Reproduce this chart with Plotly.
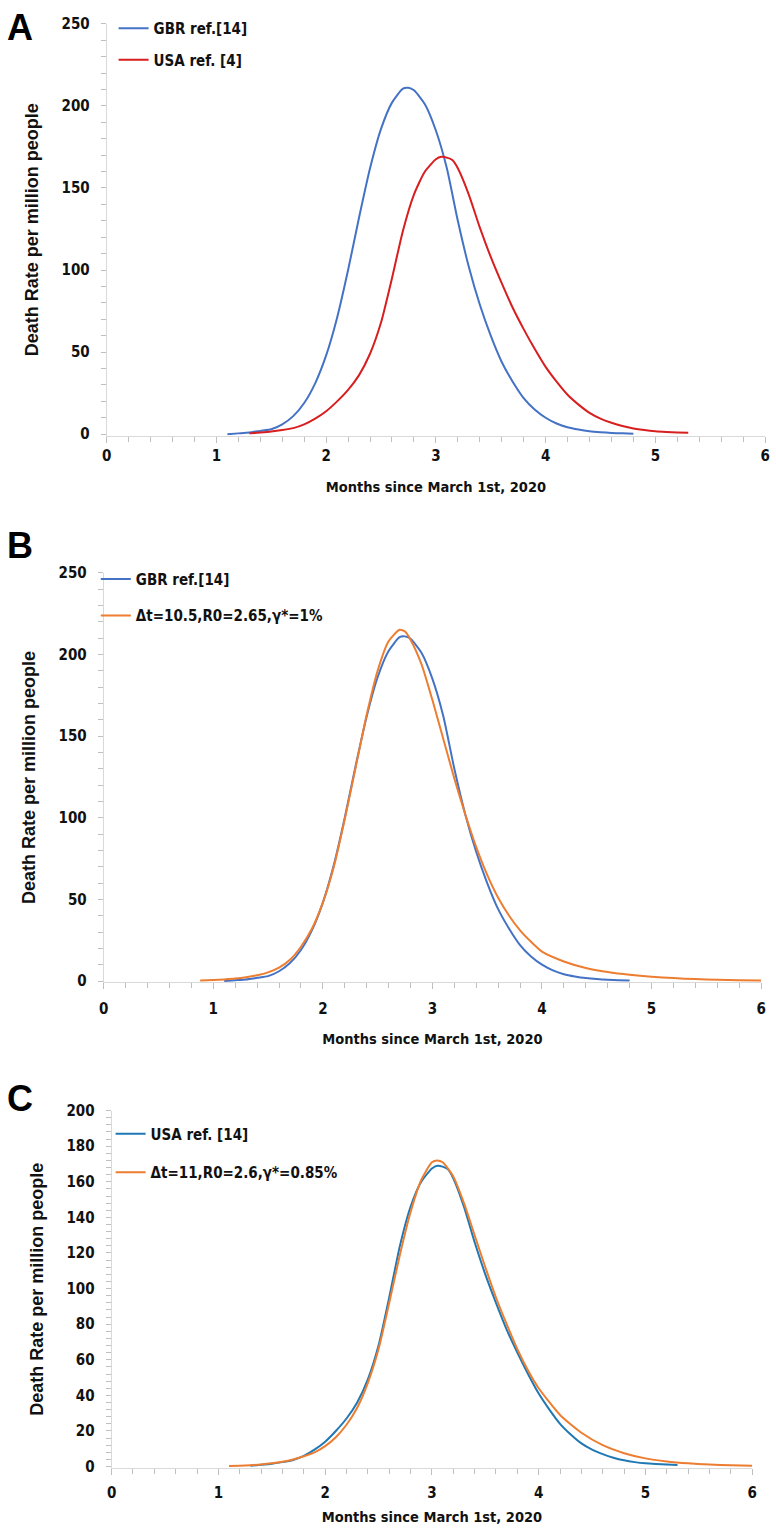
import plotly.graph_objects as go

W, H = 776, 1529

# ---------------- data ----------------
gbr_x = [1.10, 1.20, 1.30, 1.40, 1.50, 1.60, 1.70, 1.80, 1.90, 2.00, 2.10, 2.20, 2.30, 2.40,
         2.50, 2.60, 2.70, 2.75, 2.80, 2.90, 3.00, 3.10, 3.20, 3.30, 3.40, 3.50, 3.60, 3.70,
         3.80, 3.90, 4.00, 4.10, 4.20, 4.30, 4.40, 4.50, 4.60, 4.70, 4.80]
gbr_y = [0.0, 0.5, 1.0, 2.0, 3.0, 6.0, 11, 19, 31, 48, 71, 100, 132, 162,
         186, 202, 210.5, 211, 209.5, 201, 185, 162, 130, 102, 79, 60, 44, 32,
         22, 15, 10, 6.5, 4.2, 2.8, 1.8, 1.2, 0.8, 0.5, 0.3]

usa_x = [1.30, 1.40, 1.50, 1.60, 1.70, 1.80, 1.90, 2.00, 2.10, 2.20, 2.30, 2.40, 2.50, 2.60,
         2.70, 2.80, 2.90, 3.00, 3.05, 3.10, 3.15, 3.20, 3.30, 3.40, 3.50, 3.60, 3.70, 3.80,
         3.90, 4.00, 4.10, 4.20, 4.30, 4.40, 4.50, 4.60, 4.70, 4.80, 4.90, 5.00, 5.10, 5.20, 5.30]
usa_y = [0.5, 1.0, 1.6, 2.5, 3.7, 6.0, 9.5, 14, 20, 27, 36, 49, 68, 95,
         124, 146, 160, 167.5, 169, 168.5, 167, 162, 146, 126, 108, 92, 77, 64,
         52, 41, 32, 24, 18, 13, 9.5, 7, 5, 3.5, 2.5, 1.8, 1.4, 1.1, 0.9]

# model fit for GBR: dt=10.5, R0=2.65, gamma*=1%
fit_gbr_x = [0.88, 1.00, 1.10, 1.20, 1.30, 1.40, 1.50, 1.60, 1.70, 1.80, 1.90, 2.00, 2.10, 2.20,
             2.30, 2.40, 2.50, 2.60, 2.70, 2.75, 2.80, 2.90, 3.00, 3.10, 3.20, 3.30, 3.40, 3.50,
             3.60, 3.70, 3.80, 3.90, 4.00, 4.20, 4.40, 4.60, 4.80, 5.00, 5.20, 5.40, 5.60, 5.80, 6.00]
fit_gbr_y = [0.3, 0.6, 1.0, 1.5, 2.3, 3.5, 5.3, 8.2, 13, 21, 32, 48, 70, 99,
             131, 163, 190, 208, 215, 214, 209, 194, 172, 148, 124, 102, 82, 65,
             51, 40, 31, 24, 18, 12, 8, 5.5, 3.8, 2.6, 1.8, 1.2, 0.8, 0.5, 0.35]

# model fit for USA: dt=11, R0=2.6, gamma*=0.85%
fit_usa_x = [1.10, 1.20, 1.30, 1.40, 1.50, 1.60, 1.70, 1.80, 1.90, 2.00, 2.10, 2.20, 2.30, 2.40,
             2.50, 2.60, 2.70, 2.80, 2.90, 3.00, 3.05, 3.10, 3.20, 3.30, 3.40, 3.50, 3.60, 3.70,
             3.80, 3.90, 4.00, 4.20, 4.40, 4.60, 4.80, 5.00, 5.20, 5.40, 5.60, 5.80, 6.00]
fit_usa_y = [0.3, 0.5, 0.8, 1.2, 1.8, 2.7, 4.0, 5.8, 8.0, 11.5, 16.5, 23.5, 33, 47,
             66, 92, 119, 143, 161, 171, 172, 171, 163, 148, 130, 112, 95, 80,
             66, 54, 44, 29, 19, 12, 7.5, 4.6, 2.9, 1.8, 1.1, 0.7, 0.45]

x_ticks = [0, 1, 2, 3, 4, 5, 6]
names_a = ["GBR ref.[14]", "USA ref. [4]"]
names_b = ["GBR ref.[14]", "\u0394t=10.5,R0=2.65,\u03b3*=1%"]
names_c = ["USA ref. [14]", "\u0394t=11,R0=2.6,\u03b3*=0.85%"]
panel_letters = ["A", "B", "C"]

BLUE = "#4472C4"
RED = "#D81E1E"
ORANGE = "#ED7D31"
TEAL = "#1F78B4"

NARROW = "'Liberation Sans Narrow', 'Arial Narrow', 'DejaVu Sans Condensed', 'Roboto', sans-serif"
ARIAL = "'Liberation Sans', Arial, sans-serif"


def xd(l, r):
    return [l / W, r / W]


def yd(top, bottom):
    return [1 - bottom / H, 1 - top / H]


fig = go.Figure()

LW = 2
SM = 0.6

# Panel A
fig.add_trace(go.Scatter(x=gbr_x, y=gbr_y, mode="lines", name=names_a[0],
                         line=dict(color=BLUE, width=LW, shape="spline", smoothing=SM),
                         xaxis="x", yaxis="y", legend="legend", legendgroup="a1"))
fig.add_trace(go.Scatter(x=usa_x, y=usa_y, mode="lines", name=names_a[1],
                         line=dict(color=RED, width=LW, shape="spline", smoothing=SM),
                         xaxis="x", yaxis="y", legend="legend", legendgroup="a2"))
# Panel B
fig.add_trace(go.Scatter(x=gbr_x, y=gbr_y, mode="lines", name=names_b[0],
                         line=dict(color=BLUE, width=LW, shape="spline", smoothing=SM),
                         xaxis="x2", yaxis="y2", legend="legend2", legendgroup="b1"))
fig.add_trace(go.Scatter(x=fit_gbr_x, y=fit_gbr_y, mode="lines", name=names_b[1],
                         line=dict(color=ORANGE, width=LW, shape="spline", smoothing=SM),
                         xaxis="x2", yaxis="y2", legend="legend2", legendgroup="b2"))
# Panel C
fig.add_trace(go.Scatter(x=usa_x, y=usa_y, mode="lines", name=names_c[0],
                         line=dict(color=TEAL, width=LW, shape="spline", smoothing=SM),
                         xaxis="x3", yaxis="y3", legend="legend3", legendgroup="c1"))
fig.add_trace(go.Scatter(x=fit_usa_x, y=fit_usa_y, mode="lines", name=names_c[1],
                         line=dict(color=ORANGE, width=LW, shape="spline", smoothing=SM),
                         xaxis="x3", yaxis="y3", legend="legend3", legendgroup="c2"))

AXIS_GREY = "#D9D9D9"
TICK_GREY = "#BFBFBF"
tickfont = dict(family=NARROW, size=15, color="#111111", weight="bold")
xtitlefont = dict(family=NARROW, size=14.5, color="#111111", weight="bold")
ytitlefont = dict(family=ARIAL, size=18, color="#111111", weight="bold")


def xaxis(domain, anchor, standoff_lbl, standoff_title):
    return dict(domain=domain, anchor=anchor, range=[0, 6], tickvals=x_ticks,
                showgrid=False, zeroline=False, showline=True, linecolor=AXIS_GREY, linewidth=1,
                ticks="outside", ticklen=6, tickcolor=TICK_GREY, tickwidth=1,
                minor=dict(dtick=0.2, ticks="outside", ticklen=5, tickcolor=TICK_GREY, showgrid=False),
                tickfont=tickfont, ticklabelstandoff=standoff_lbl, ticklabeloverflow="allow",
                title=dict(text="Months since March 1st, 2020", font=xtitlefont, standoff=standoff_title))


def yaxis(domain, anchor, rng, dtick, mdtick, standoff_title):
    return dict(domain=domain, anchor=anchor, range=rng, dtick=dtick, tick0=0,
                showgrid=False, zeroline=False, showline=True, linecolor=AXIS_GREY, linewidth=1,
                ticks="outside", ticklen=5, tickcolor=TICK_GREY, tickwidth=1,
                minor=dict(dtick=mdtick, ticks="outside", ticklen=5, tickcolor=TICK_GREY, showgrid=False),
                tickfont=tickfont, ticklabelstandoff=8, ticklabeloverflow="allow",
                title=dict(text="Death Rate per million people", font=ytitlefont, standoff=standoff_title))


legfont = dict(family=NARROW, size=15, color="#111111", weight="bold")

fig.update_layout(
    width=W, height=H,
    margin=dict(l=0, r=0, t=0, b=0),
    paper_bgcolor="white", plot_bgcolor="white",
    showlegend=True,
    xaxis=xaxis(xd(103, 770), "y", 0, 18),
    yaxis=yaxis(yd(15, 431.3), "x", [-0.8, 250], 50, 10, 18),
    xaxis2=xaxis(xd(100, 766), "y2", 7, 16),
    yaxis2=yaxis(yd(570, 984.3), "x2", [-0.8, 250], 50, 10, 18),
    xaxis3=xaxis(xd(108, 757), "y3", 5, 10),
    yaxis3=yaxis(yd(1114, 1475.4), "x3", [-0.8, 200], 20, 4, 18),
    legend=dict(x=110 / W, y=1 - 3 / H, xanchor="left", yanchor="top", font=legfont,
                bgcolor="rgba(0,0,0,0)", tracegroupgap=9, traceorder="grouped"),
    legend2=dict(x=92 / W, y=1 - 560 / H, xanchor="left", yanchor="top", font=legfont,
                 bgcolor="rgba(0,0,0,0)", tracegroupgap=14, traceorder="grouped"),
    legend3=dict(x=107 / W, y=1 - 1121 / H, xanchor="left", yanchor="top", font=legfont,
                 bgcolor="rgba(0,0,0,0)", tracegroupgap=16, traceorder="grouped"),
)

letter_pos = [(15, 19), (15, 543), (15, 1102)]
for letter, (px, py) in zip(panel_letters, letter_pos):
    fig.add_annotation(text=letter, x=px / W, y=1 - py / H, xref="paper", yref="paper",
                       xanchor="center", yanchor="middle", showarrow=False,
                       font=dict(family=ARIAL, size=36, color="#000000", weight="bold"))

fig.write_html("out.html", config={"displayModeBar": False},
               post_script=["document.body.style.margin='0px';"])
